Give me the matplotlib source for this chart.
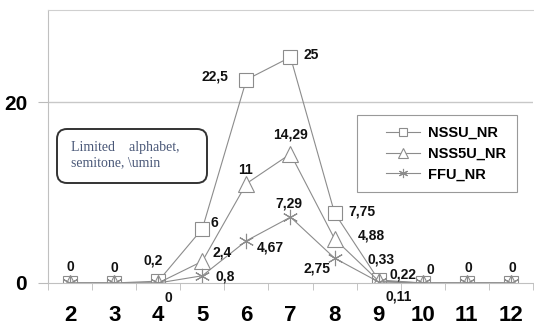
import matplotlib
matplotlib.use("Agg")
import numpy as np
import matplotlib.pyplot as plt
from matplotlib.patches import FancyBboxPatch
from matplotlib.legend_handler import HandlerLine2D

# data
alphabet_sizes = [2, 3, 4, 5, 6, 7, 8, 9, 10, 11, 12]
nssu_nr = [0, 0, 0.2, 6, 22.5, 25, 7.75, 0.33, 0, 0, 0]
nss5u_nr = [0, 0, 0, 2.4, 11, 14.29, 4.88, 0.22, 0, 0, 0]
ffu_nr = [0, 0, 0, 0.8, 4.67, 7.29, 2.75, 0.11, 0, 0, 0]
series_names = ["NSSU_NR", "NSS5U_NR", "FFU_NR"]
note_text = "Limited    alphabet,\nsemitone, \\umin"

# label offsets in pixels (None = no label)
nssu_offsets = [(0, 16), (0, 15), (-5, 21), (12, 6), (-31, 3), (21, 2), (27, 1),
                (2, 20), (8, 13), (2, 15), (1, 15)]
nss5u_offsets = [None, None, None, (20, 9), (-1, 14), (0, 19), (37, 3), (24, 6),
                 None, None, None]
ffu_offsets = [None, None, (10, -15), (23, -1), (24, -7), (-2, 14), (-18, -10),
               (20, -15), None, None, None]


class ShortLine(HandlerLine2D):
    # legend line only on the right part of the handle box, like excel
    def get_xdata(self, legend, xdescent, ydescent, width, height, fontsize):
        x0 = -xdescent + width * 0.35
        x1 = -xdescent + width
        return np.array([x0, x1]), np.array([(x0 + x1) / 2])


line_col = "#8c8c8c"
plt.rcParams["font.family"] = ["Liberation Sans", "DejaVu Sans"]

fig = plt.figure(figsize=(5.34, 3.26), dpi=100)
ax = fig.add_axes([0.09, 0.132, 0.908, 0.837])

styles = [
    dict(marker="s", markersize=10),
    dict(marker="^", markersize=11),
    dict(marker=(6, 2, 0), markersize=11),
]
all_values = [nssu_nr, nss5u_nr, ffu_nr]
all_offsets = [nssu_offsets, nss5u_offsets, ffu_offsets]

lines = []
for vals, name, st in zip(all_values, series_names, styles):
    ln, = ax.plot(alphabet_sizes, vals, color=line_col, lw=0.8, label=name,
                  markerfacecolor="white", markeredgecolor=line_col,
                  markeredgewidth=0.8, **st)
    lines.append(ln)

for vals, offs in zip(all_values, all_offsets):
    for x, v, off in zip(alphabet_sizes, vals, offs):
        if off is None:
            continue
        ax.annotate(f"{v:g}".replace(".", ","), (x, v), xytext=off,
                    textcoords="offset pixels", ha="center", va="center",
                    fontsize=10, fontweight="bold", color="#111111")

ax.set_xlim(1.53, 12.45)
ax.set_ylim(0, 30.2)
ax.set_xticks(alphabet_sizes)
ax.set_xticks([x + 0.5 for x in [1] + alphabet_sizes], minor=True)
ax.set_yticks([0, 20])
ax.tick_params(axis="x", which="major", length=0, pad=16, labelsize=16)
ax.tick_params(axis="x", which="minor", length=5, color="#bbbbbb", direction="out")
ax.tick_params(axis="y", length=7, color="#bbbbbb", pad=8, labelsize=15)
for lab in ax.get_xticklabels() + ax.get_yticklabels():
    lab.set_fontweight("bold")

ax.axhline(20, color="#c8c8c8", lw=1, zorder=0)
ax.spines["right"].set_visible(False)
ax.spines["top"].set_color("#d0d0d0")
ax.spines["left"].set_color("#c0c0c0")
ax.spines["bottom"].set_color("#c0c0c0")

leg = ax.legend(loc="upper left", bbox_to_anchor=(0.637, 0.615), borderaxespad=0,
                fancybox=False, edgecolor="#999999", framealpha=1, borderpad=0.75,
                labelspacing=0.45, handlelength=3.6, handletextpad=0.5,
                markerscale=0.6, prop=dict(weight="bold", size=10.5),
                handler_map={ln: ShortLine() for ln in lines})
leg.get_frame().set_linewidth(0.8)

box = FancyBboxPatch((57, 143), 150, 54, boxstyle="round,pad=0,rounding_size=10",
                     transform=None, facecolor="white", edgecolor="#333333", lw=1.4)
fig.patches.append(box)
fig.text(71 / 534, 1 - 155 / 326, note_text, family="Liberation Serif", fontsize=10,
         color="#4a5878", va="center", linespacing=1.15)

fig.savefig("out.png", dpi=100)
